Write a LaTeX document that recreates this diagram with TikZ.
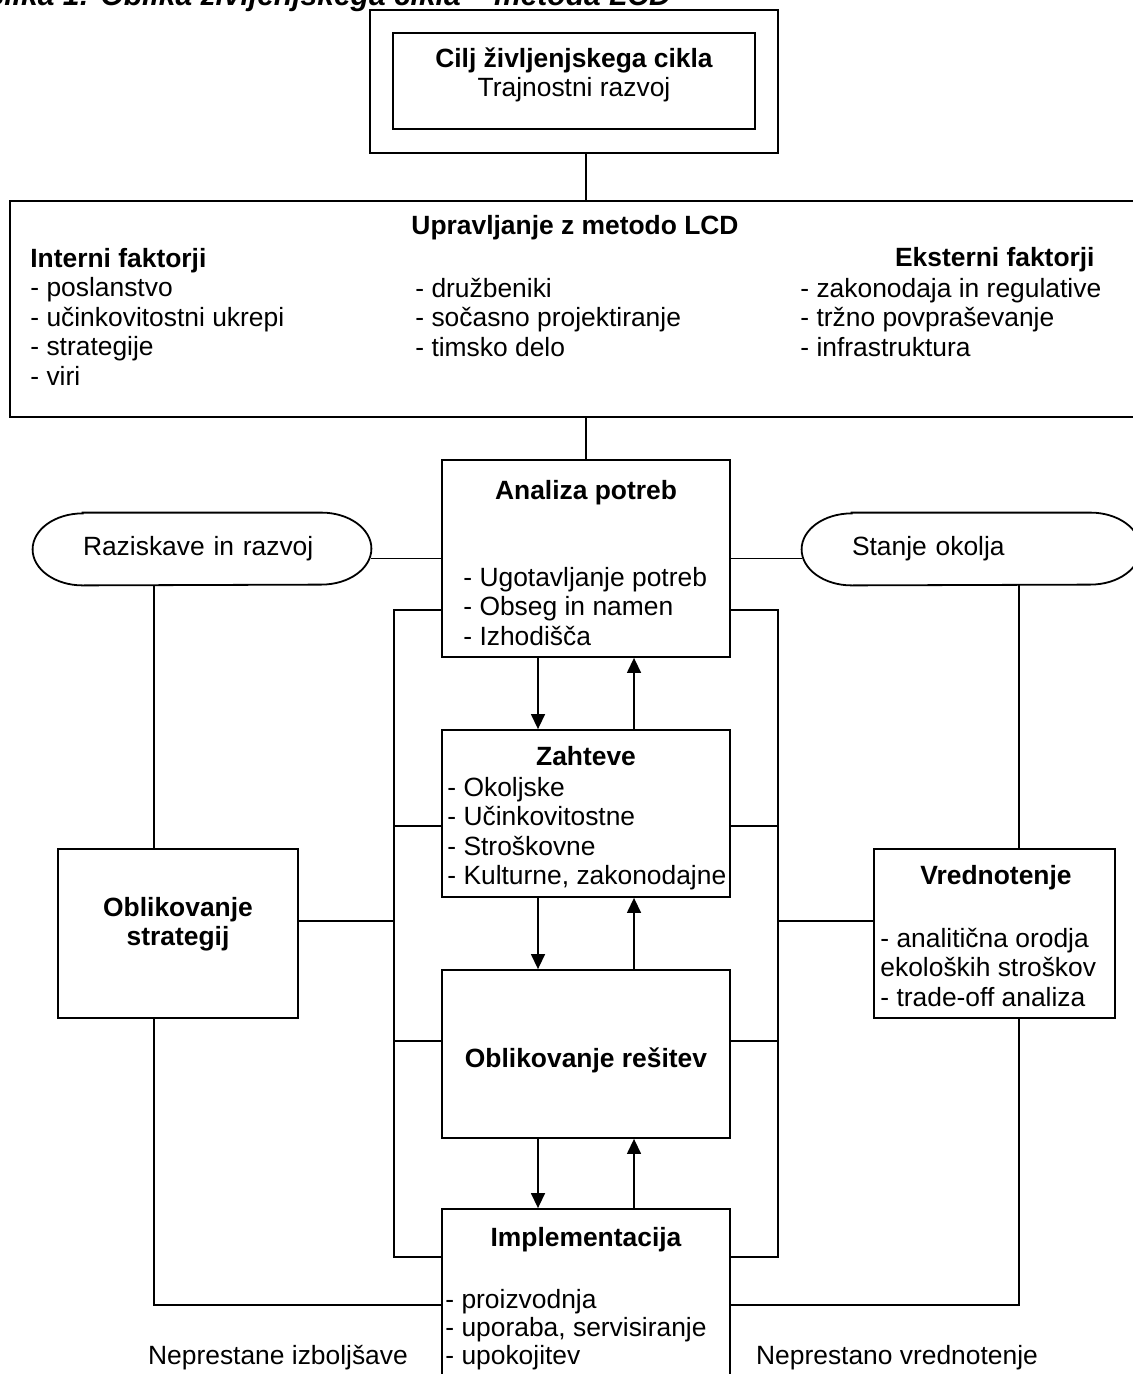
\documentclass[tikz,border=0pt]{standalone}
\usepackage{fontspec}
\setmainfont{Liberation Sans}
\usetikzlibrary{arrows.meta,positioning,calc}
\newcommand\lcdfont{\fontsize{13.2}{14.8}\selectfont}
\newcommand\capsuleline[1]{%
  \draw[line width=0.9pt] ([xshift=25pt]#1.north west) -- ([xshift=-25pt]#1.north east)
    arc[start angle=90, end angle=-90, x radius=25pt, y radius=18pt]
    -- ([xshift=25pt]#1.south west)
    arc[start angle=270, end angle=90, x radius=25pt, y radius=18pt] -- cycle;}
\tikzset{
  lcdbox/.style={draw, line width=0.9pt, inner sep=0pt},
  capsule/.style={inner xsep=25pt, minimum height=36pt, text width=119pt, align=left, font=\lcdfont},
  boxtitle/.style={font=\lcdfont\bfseries, anchor=base, align=center, inner sep=0pt},
  boxtext/.style={font=\lcdfont, anchor=base, inner sep=0pt},
  boxlist/.style={font=\lcdfont, anchor=base west, align=left, inner sep=0pt},
  lcdline/.style={line width=0.7pt},
  lcdarrow/.style={lcdline, -{Triangle[length=7.5pt, width=7pt]}}
}
\begin{document}
\begin{tikzpicture}[x=0.5pt, y=-0.5pt]
  \useasboundingbox (0,0) rectangle (1133,1374);
  % caption, cut at the top
  \node[font=\fontsize{15}{18}\selectfont\bfseries\itshape, anchor=base west, inner sep=0pt] (caption) at (-16,6) {Slika 1: Oblika življenjskega cikla – metoda LCD};
  % goal
  \node[lcdbox, minimum width=204pt, minimum height=71.5pt] (goalout) at (574,81.5) {};
  \node[lcdbox, minimum width=181pt, minimum height=48pt] (goal) at (574,81) {};
  \node[boxtitle] (goalt) at (574,68) {Cilj življenjskega cikla};
  \node[boxtext] (goals) at (574,97) {Trajnostni razvoj};
  % management (lists anchored on their last line)
  \node[lcdbox, minimum width=570pt, minimum height=108pt] (mgmt) at (580,309) {};
  \node[boxtitle] (mgmtt) at (575,235) {Upravljanje z metodo LCD};
  \node[boxlist] (intern) at (30,385.4) {\textbf{Interni faktorji}\\- poslanstvo\\- učinkovitostni ukrepi\\- strategije\\- viri};
  \node[boxlist] (middle) at (415,356.2) {- družbeniki\\- sočasno projektiranje\\- timsko delo};
  \node[font=\lcdfont\bfseries, anchor=base east, inner sep=0pt] (externt) at (1095,267) {Eksterni faktorji};
  \node[boxlist] (extern) at (800,356.2) {- zakonodaja in regulative\\- tržno povpraševanje\\- infrastruktura};
  % side capsules
  \node[capsule] (rd) at (202,549) {Raziskave in razvoj};
  \node[capsule] (so) at (971,549) {Stanje okolja};
  \capsuleline{rd}
  \capsuleline{so}
  % centre column
  \node[lcdbox, minimum width=144pt, minimum height=98.5pt] (ana) at (586,558.5) {};
  \node[boxtitle] (anat) at (586,499) {Analiza potreb};
  \node[boxlist] (anal) at (463,645.2) {- Ugotavljanje potreb\\- Obseg in namen\\- Izhodišča};
  \node[lcdbox, minimum width=144pt, minimum height=83.5pt] (zah) at (586,813.5) {};
  \node[boxtitle] (zaht) at (586,765) {Zahteve};
  \node[boxlist] (zahl) at (447,884.8) {- Okoljske\\- Učinkovitostne\\- Stroškovne\\- Kulturne, zakonodajne};
  \node[lcdbox, minimum width=144pt, minimum height=84pt] (res) at (586,1054) {};
  \node[boxtitle] (rest) at (586,1067) {Oblikovanje rešitev};
  \node[lcdbox, minimum width=144pt, minimum height=95.5pt] (imp) at (586,1304.5) {};
  \node[boxtitle] (impt) at (586,1246) {Implementacija};
  \node[boxlist, font=\fontsize{13.2}{14}\selectfont] (impl) at (445,1364) {- proizvodnja\\- uporaba, servisiranje\\- upokojitev};
  % side boxes
  \node[lcdbox, minimum width=120pt, minimum height=84.5pt] (strat) at (178,933.5) {};
  \node[boxtitle] (stratt) at (178,945.6) {Oblikovanje\\strategij};
  \node[lcdbox, minimum width=120.5pt, minimum height=84.5pt] (vred) at (994.5,933.5) {};
  \node[boxtitle] (vredt) at (996,884) {Vrednotenje};
  \node[boxlist] (vredl) at (880,1006.2) {- analitična orodja\\ekoloških stroškov\\- trade-off analiza};
  % bottom texts
  \node[boxtext] (impr) at (278,1364) {Neprestane izboljšave};
  \node[boxtext] (eval) at (897,1364) {Neprestano vrednotenje};

  % rail points
  \coordinate (lout) at (154,1305);
  \coordinate (rout) at (1019,1305);
  \coordinate (la) at (394,610);
  \coordinate (lz) at (394,826);
  \coordinate (ls) at (394,921);
  \coordinate (lr) at (394,1041);
  \coordinate (lb) at (394,1257);
  \coordinate (ra) at (778,610);
  \coordinate (rz) at (778,826);
  \coordinate (rs) at (778,921);
  \coordinate (rr) at (778,1041);
  \coordinate (rb) at (778,1257);
  \coordinate (dn) at (538,0);
  \coordinate (up) at (634,0);

  % connectors
  \draw[lcdline] (goalout.south -| ana.north) -- (mgmt.north -| ana.north);
  \draw[lcdline] (mgmt.south -| ana.north) -- (ana.north);
  \draw[lcdline] (ana.west -| rd.east) -- (ana.west);
  \draw[lcdline] (ana.east) -- (ana.east -| so.west);
  \draw[lcdline] (rd.south -| lout) -- (strat.north -| lout);
  \draw[lcdline] (strat.south -| lout) -- (lout) -- (lout -| imp.west);
  \draw[lcdline] (so.south -| rout) -- (vred.north -| rout);
  \draw[lcdline] (vred.south -| rout) -- (rout) -- (rout -| imp.east);
  \draw[lcdline] (la -| ana.west) -- (la) -- (lb) -- (lb -| imp.west);
  \draw[lcdline] (lz) -- (lz -| zah.west);
  \draw[lcdline] (lr) -- (lr -| res.west);
  \draw[lcdline] (ls -| strat.east) -- (ls);
  \draw[lcdline] (ra -| ana.east) -- (ra) -- (rb) -- (rb -| imp.east);
  \draw[lcdline] (rz) -- (rz -| zah.east);
  \draw[lcdline] (rr) -- (rr -| res.east);
  \draw[lcdline] (rs -| vred.west) -- (rs);
  \foreach \a/\b in {ana/zah, zah/res, res/imp} {
    \draw[lcdarrow] (\a.south -| dn) -- (\b.north -| dn);
    \draw[lcdarrow] (\b.north -| up) -- (\a.south -| up);
  }
\end{tikzpicture}
\end{document}
